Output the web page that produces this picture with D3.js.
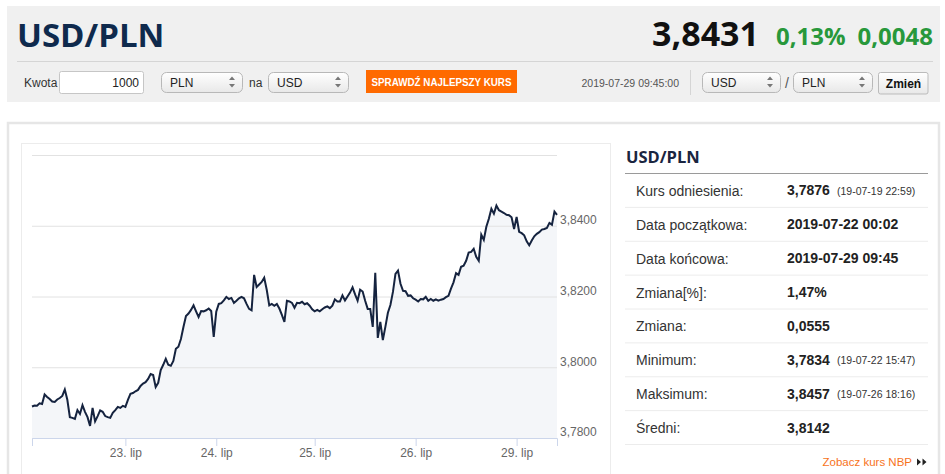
<!DOCTYPE html>
<html lang="pl">
<head>
<meta charset="UTF-8">
<title>USD/PLN</title>
<script src="https://d3js.org/d3.v7.min.js"></script>
<style>
  body { margin: 0; background: #fff; font-family: Arial, "Liberation Sans", sans-serif; }
  svg { display: block; }
</style>
</head>
<body>
<svg id="page" width="945" height="474"></svg>
<script>
// quote header
const pair = "USD/PLN";
const lastRate = "3,8431";
const changePct = "0,13%";
const changeAbs = "0,0048";
const quoteTime = "2019-07-29 09:45:00";

// chart: one array of rates per trading day (ordinal axis, weekend skipped)
const days = ["22. lip", "23. lip", "24. lip", "25. lip", "26. lip", "29. lip"];
const day22 = [3.7889, 3.7892, 3.7891, 3.7898, 3.7896, 3.7923, 3.7916, 3.7910, 3.7903, 3.7902,
  3.7909, 3.7913, 3.7919, 3.7937, 3.7908, 3.7859, 3.7857, 3.7854, 3.7879, 3.7868,
  3.7893, 3.7874, 3.7859, 3.7834, 3.7885, 3.7847, 3.7862, 3.7878, 3.7874, 3.7862,
  3.7859, 3.7857, 3.7871, 3.7879, 3.7888, 3.7885, 3.7891];
const day23 = [3.7888, 3.7908, 3.7925, 3.7927, 3.7932, 3.7936, 3.7947, 3.7954, 3.7958, 3.7967,
  3.7981, 3.7978, 3.7944, 3.7956, 3.7992, 3.8007, 3.8024, 3.8007, 3.8004, 3.8018,
  3.8052, 3.8058, 3.8080, 3.8114, 3.8145, 3.8152, 3.8162, 3.8175, 3.8158, 3.8142,
  3.8159, 3.8158, 3.8161, 3.8166, 3.8159, 3.8086];
const day24 = [3.8157, 3.8179, 3.8181, 3.8189, 3.8199, 3.8193, 3.8196, 3.8182, 3.8188, 3.8195,
  3.8199, 3.8195, 3.8179, 3.8165, 3.8161, 3.8261, 3.8227, 3.8234, 3.8241, 3.8253,
  3.8219, 3.8175, 3.8179, 3.8174, 3.8179, 3.8166, 3.8148, 3.8128, 3.8188, 3.8186,
  3.8182, 3.8168, 3.8182, 3.8181, 3.8185, 3.8178, 3.8181, 3.8174, 3.8164];
const day25 = [3.8158, 3.8162, 3.8158, 3.8164, 3.8169, 3.8172, 3.8167, 3.8174, 3.8192, 3.8186,
  3.8186, 3.8203, 3.8189, 3.8200, 3.8211, 3.8226, 3.8206, 3.8188, 3.8219, 3.8214,
  3.8188, 3.8165, 3.8165, 3.8114, 3.8267, 3.8083, 3.8128, 3.8077, 3.8114, 3.8154,
  3.8176, 3.8213, 3.8264, 3.8273, 3.8236, 3.8216, 3.8215, 3.8202, 3.8203, 3.8195];
const day26 = [3.8191, 3.8186, 3.8193, 3.8192, 3.8199, 3.8188, 3.8193, 3.8188, 3.8192, 3.8188,
  3.8191, 3.8193, 3.8198, 3.8202, 3.8222, 3.8240, 3.8266, 3.8261, 3.8284, 3.8287,
  3.8301, 3.8324, 3.8326, 3.8335, 3.8312, 3.8301, 3.8375, 3.8360, 3.8397, 3.8420,
  3.8448, 3.8434, 3.8457, 3.8444, 3.8440, 3.8436, 3.8431, 3.8430, 3.8424, 3.8391];
const day29 = [3.8425, 3.8383, 3.8379, 3.8373, 3.8356, 3.8345, 3.8358, 3.8370, 3.8377, 3.8382,
  3.8389, 3.8391, 3.8394, 3.8408, 3.8403, 3.8440, 3.8431];
const yTicks = [3.78, 3.80, 3.82, 3.84, 3.86];
const yLabelTicks = [3.78, 3.80, 3.82, 3.84];

// stats table
const statLabels = ["Kurs odniesienia:", "Data początkowa:", "Data końcowa:", "Zmiana[%]:",
  "Zmiana:", "Minimum:", "Maksimum:", "Średni:"];
const statValues = ["3,7876", "2019-07-22 00:02", "2019-07-29 09:45", "1,47%",
  "0,0555", "3,7834", "3,8457", "3,8142"];
const statNotes = ["(19-07-19 22:59)", "", "", "", "", "(19-07-22 15:47)", "(19-07-26 18:16)", ""];

const svg = d3.select("#page");
const defs = svg.append("defs");
const grad = defs.append("linearGradient").attr("id", "ctrlGrad")
  .attr("x1", 0).attr("y1", 0).attr("x2", 0).attr("y2", 1);
grad.append("stop").attr("offset", "0%").attr("stop-color", "#ffffff");
grad.append("stop").attr("offset", "100%").attr("stop-color", "#e8e8e8");

// ---- header box
svg.append("rect").attr("x", 7).attr("y", 6).attr("width", 933).attr("height", 96)
  .attr("fill", "#f0f0f0");

svg.append("text").attr("x", 17).attr("y", 47)
  .style("font-family", "'Open Sans', sans-serif").style("font-weight", 700)
  .style("font-size", "33px").attr("fill", "#0f2a4d").text(pair);

svg.append("text").attr("x", 759).attr("y", 46).attr("text-anchor", "end")
  .style("font-family", "'Open Sans', sans-serif").style("font-weight", 700)
  .style("font-size", "34px").attr("fill", "#111").text(lastRate);

svg.append("text").attr("x", 776).attr("y", 45)
  .style("font-family", "'Open Sans', sans-serif").style("font-weight", 700)
  .style("font-size", "24px").attr("fill", "#28983b").text(changePct);

svg.append("text").attr("x", 933).attr("y", 45).attr("text-anchor", "end")
  .style("font-family", "'Open Sans', sans-serif").style("font-weight", 700)
  .style("font-size", "24px").attr("fill", "#28983b").text(changeAbs);

svg.append("line").attr("x1", 17).attr("x2", 933).attr("y1", 61.5).attr("y2", 61.5)
  .attr("stroke", "#d5d5d5");

// controls row
const ctrl = svg.append("g").style("font-family", "Arial, sans-serif").style("font-size", "12px");

ctrl.append("text").attr("x", 24).attr("y", 87).attr("fill", "#333").text("Kwota");
ctrl.append("rect").attr("x", 59.5).attr("y", 71.5).attr("width", 84).attr("height", 22)
  .attr("rx", 2).attr("fill", "#fff").attr("stroke", "#c6c6c6");
ctrl.append("text").attr("x", 139).attr("y", 87).attr("text-anchor", "end").attr("fill", "#222").text("1000");

function drawSelect(x0, w, label) {
  const g = ctrl.append("g");
  g.append("rect").attr("x", x0 + 0.5).attr("y", 72.5).attr("width", w).attr("height", 20)
    .attr("rx", 5).attr("fill", "url(#ctrlGrad)").attr("stroke", "#b8b8b8");
  g.append("text").attr("x", x0 + 9).attr("y", 87).attr("fill", "#222").text(label);
  const ax = x0 + w - 10;
  g.append("path").attr("d", `M${ax - 3},80 L${ax + 3},80 L${ax},76.5 Z`).attr("fill", "#777");
  g.append("path").attr("d", `M${ax - 3},84 L${ax + 3},84 L${ax},87.5 Z`).attr("fill", "#777");
}
drawSelect(161, 81, "PLN");
ctrl.append("text").attr("x", 249).attr("y", 87).attr("fill", "#333").text("na");
drawSelect(268, 80, "USD");

ctrl.append("rect").attr("x", 366).attr("y", 70).attr("width", 151).attr("height", 23)
  .attr("fill", "#ff6a00");
ctrl.append("text").attr("x", 441.5).attr("y", 86).attr("text-anchor", "middle")
  .attr("fill", "#fff").style("font-size", "11px").style("font-weight", "bold")
  .attr("textLength", 140).attr("lengthAdjust", "spacingAndGlyphs")
  .text("SPRAWDŹ NAJLEPSZY KURS");

ctrl.append("text").attr("x", 679).attr("y", 87).attr("text-anchor", "end")
  .attr("fill", "#555").style("font-size", "10.5px").text(quoteTime);
ctrl.append("line").attr("x1", 690.5).attr("x2", 690.5).attr("y1", 70).attr("y2", 95)
  .attr("stroke", "#d5d5d5");

drawSelect(702, 78, "USD");
ctrl.append("text").attr("x", 787).attr("y", 88).attr("text-anchor", "middle")
  .attr("fill", "#555").style("font-size", "14px").text("/");
drawSelect(793, 79, "PLN");

ctrl.append("rect").attr("x", 878.5).attr("y", 72.5).attr("width", 49.5).attr("height", 21.5)
  .attr("rx", 2).attr("fill", "url(#ctrlGrad)").attr("stroke", "#bbb");
ctrl.append("text").attr("x", 903.5).attr("y", 88).attr("text-anchor", "middle")
  .style("font-weight", "bold").attr("fill", "#111").text("Zmień");

// ---- main panel
svg.append("rect").attr("x", 8).attr("y", 123).attr("width", 931).attr("height", 360)
  .attr("fill", "#fff").attr("stroke", "#e6e6e6").attr("stroke-width", 2.5);
svg.append("rect").attr("x", 21.5).attr("y", 143.5).attr("width", 589).attr("height", 340)
  .attr("fill", "#fff").attr("stroke", "#ececec");

// ---- chart
const series = [day22, day23, day24, day25, day26, day29];
const values = series.flat();
const dayStart = [];
let acc = 0;
series.forEach(s => { dayStart.push(acc); acc += s.length; });

const x = d3.scaleLinear().domain([0, values.length - 1]).range([32, 557]);
const y = d3.scaleLinear().domain([3.78, 3.86]).range([438, 155]);

const chart = svg.append("g");

chart.append("path").datum(values)
  .attr("fill", "#f4f6f9")
  .attr("d", d3.area().x((d, i) => x(i)).y0(y(3.78)).y1(d => y(d)));

const grid = chart.append("g").attr("transform", `translate(${x(0)},0)`)
  .call(d3.axisLeft(y).tickValues(yTicks).tickSize(-(x.range()[1] - x.range()[0])).tickFormat(""));
grid.select(".domain").remove();
grid.selectAll("line").attr("stroke", "#e2e2e2");

const yAxis = chart.append("g").attr("transform", `translate(${x.range()[1]},0)`)
  .call(d3.axisRight(y).tickValues(yLabelTicks).tickSize(0).tickPadding(3)
    .tickFormat(d => d.toFixed(4).replace(".", ",")));
yAxis.select(".domain").remove();
yAxis.selectAll("text").attr("y", -6).attr("fill", "#666")
  .style("font-family", "Arial, sans-serif").style("font-size", "12px");

const xAxis = chart.append("g").attr("transform", `translate(0,${y(3.78)})`)
  .call(d3.axisBottom(x).tickValues(dayStart.slice(1)).tickSize(8).tickPadding(2)
    .tickFormat((d, i) => days[i + 1]));
xAxis.select(".domain").attr("stroke", "#ccd6eb");
xAxis.selectAll("line").attr("stroke", "#ccd6eb");
xAxis.selectAll("text").attr("fill", "#666")
  .style("font-family", "Arial, sans-serif").style("font-size", "12px");

chart.append("path").datum(values)
  .attr("fill", "none").attr("stroke", "#15233f").attr("stroke-width", 2)
  .attr("stroke-linejoin", "miter")
  .attr("d", d3.line().x((d, i) => x(i)).y(d => y(d)));

// ---- stats table
const side = svg.append("g");
side.append("text").attr("x", 626).attr("y", 163)
  .style("font-family", "'Open Sans', sans-serif").style("font-weight", 700)
  .style("font-size", "16.5px").attr("fill", "#1a2540").text(pair);
side.append("line").attr("x1", 625).attr("x2", 928).attr("y1", 173.5).attr("y2", 173.5)
  .attr("stroke", "#9a9a9a");

const rows = d3.scaleBand().domain(statLabels).range([173.5, 444.5]);
const row = side.selectAll("g.row").data(statLabels).enter().append("g")
  .attr("class", "row")
  .attr("transform", d => `translate(0,${rows(d)})`);
row.append("line").attr("x1", 625).attr("x2", 928)
  .attr("y1", rows.bandwidth()).attr("y2", rows.bandwidth()).attr("stroke", "#ececec");
row.append("text").attr("x", 636).attr("y", rows.bandwidth() / 2 + 5.5)
  .style("font-size", "14px").attr("fill", "#333").text(d => d);
row.append("text").attr("x", 787).attr("y", rows.bandwidth() / 2 + 5)
  .style("font-size", "14px").style("font-weight", "bold").attr("fill", "#222")
  .text((d, i) => statValues[i]);
row.append("text").attr("x", 837).attr("y", rows.bandwidth() / 2 + 4.5)
  .style("font-size", "10.5px").attr("fill", "#333")
  .text((d, i) => statNotes[i]);

side.append("text").attr("x", 912).attr("y", 466).attr("text-anchor", "end")
  .style("font-size", "11.5px").attr("fill", "#f7731c").text("Zobacz kurs NBP");
side.append("path").attr("d", "M917,458.5 L921,462 L917,465.5 Z M922.5,458.5 L926.5,462 L922.5,465.5 Z")
  .attr("fill", "#222");
</script>
</body>
</html>
